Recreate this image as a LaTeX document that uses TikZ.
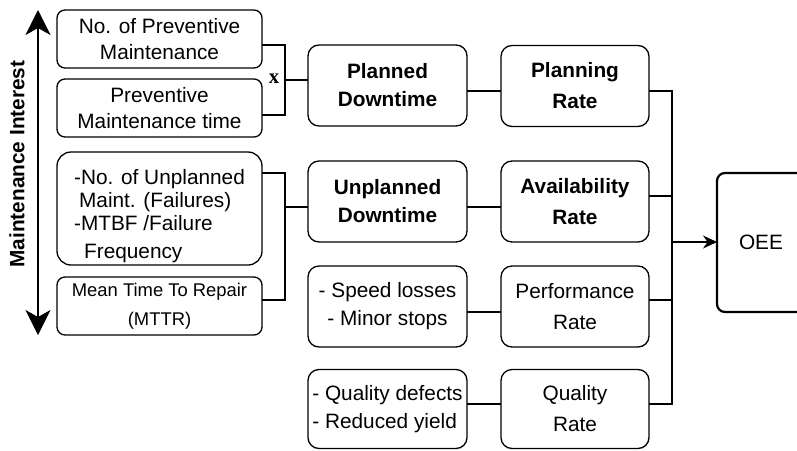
\documentclass[tikz,border=0pt]{standalone}
\usepackage{fontspec}
\setmainfont{Liberation Sans}
\newfontfamily\serifFont{Liberation Serif}
\usetikzlibrary{calc, arrows.meta}

\tikzset{
	inbox/.style={draw=black, line width=1.3pt, rounded corners=8pt, inner sep=0pt, outer sep=0pt,
		minimum width=205pt, minimum height=58pt, align=center, font=\fontsize{20.8}{26}\selectfont},
	lossbox/.style={draw=black, line width=1.3pt, rounded corners=11pt, inner sep=0pt, outer sep=0pt,
		minimum width=159pt, minimum height=81pt, align=center, font=\fontsize{20.8}{28}\selectfont},
	ratebox/.style={draw=black, line width=1.3pt, rounded corners=11pt, inner sep=0pt, outer sep=0pt,
		minimum width=148pt, minimum height=81pt, align=center, font=\fontsize{20.8}{31}\selectfont},
	link/.style={draw=black, line width=1.1pt}
}

\begin{document}
\begin{tikzpicture}[x=1pt, y=-1pt]

	\clip (0,0) rectangle (797,450);

	\def\leftCol{159.5}
	\def\midCol{387.5}
	\def\rightCol{575}

	% Maintenance inputs
	\node[inbox] (no_pm) at (\leftCol,39) {No. of Preventive\\ Maintenance};
	\node[inbox] (pm_time) at (\leftCol,108) {Preventive\\ Maintenance time};
	\node[inbox, rounded corners=14pt, minimum height=113pt, align=left,
		font=\fontsize{20.8}{23}\selectfont] (failures) at (\leftCol,208.5)
		{\rule{0pt}{31pt}-No. of Unplanned\\ \hspace*{5pt}Maint. (Failures)\\ -MTBF /Failure\\[5pt] \hspace*{10pt}Frequency};
	\node[inbox, font=\fontsize{18.4}{29}\selectfont] (mttr) at (\leftCol,306) {Mean Time To Repair\\ (MTTR)};

	% Losses
	\node[lossbox, font=\bfseries\fontsize{20.8}{28}\selectfont] (planned_downtime) at (\midCol,85.5) {Planned\\ Downtime};
	\node[lossbox, font=\bfseries\fontsize{20.8}{28}\selectfont] (unplanned_downtime) at (\midCol,201.5) {Unplanned\\ Downtime};
	\node[lossbox] (speed_losses) at (\midCol,306.5) {- Speed losses\\ - Minor stops};
	\node[lossbox, minimum height=79pt, align=left] (quality_defects) at (\midCol,409) {- Quality defects\\ - Reduced yield};

	% Rates
	\node[ratebox, font=\bfseries\fontsize{20.8}{31}\selectfont] (planning_rate) at (\rightCol,86) {Planning\\ Rate};
	\node[ratebox, font=\bfseries\fontsize{20.8}{31}\selectfont] (availability_rate) at (\rightCol,201.5) {Availability\\ Rate};
	\node[ratebox] (performance_rate) at (\rightCol,306.5) {Performance\\ Rate};
	\node[ratebox, minimum height=79pt] (quality_rate) at (\rightCol,409) {Quality\\ Rate};

	\node[draw=black, line width=2.2pt, rounded corners=8pt, inner sep=0pt, outer sep=0pt,
		minimum width=88pt, minimum height=139pt, font=\fontsize{20.8}{26}\selectfont] (oee) at (761,242.5) {OEE};

	\coordinate (pm_join) at (285,80);
	\coordinate (failure_join) at (285,207);
	\coordinate (bus_top) at (672,91);
	\coordinate (bus_bottom) at (672,404);
	\coordinate (bus_out) at (672,242);
	\coordinate (avail_level) at (0,196);
	\coordinate (speed_level) at (0,312);
	\coordinate (perf_level) at (0,300);

	% Planned branch
	\draw[link] ([yshift=-6pt]no_pm.east) -| (pm_join) |- ([yshift=-7pt]pm_time.east);
	\node[font=\serifFont\bfseries\fontsize{20.8}{26}\selectfont] (times_sign) at (274,79) {x};
	\draw[link] (pm_join) -- (pm_join -| planned_downtime.west);
	\draw[link] (planned_downtime.east |- bus_top) -- (planning_rate.west |- bus_top);

	% Unplanned branch
	\draw[link] ([yshift=35.5pt]failures.east) -| (failure_join) |- ([yshift=6pt]mttr.east);
	\draw[link] (failure_join) -- (failure_join -| unplanned_downtime.west);
	\draw[link] (unplanned_downtime.east |- failure_join) -- (availability_rate.west |- failure_join);

	% Speed and quality
	\draw[link] (speed_losses.east |- speed_level) -- (performance_rate.west |- speed_level);
	\draw[link] (quality_defects.east |- bus_bottom) -- (quality_rate.west |- bus_bottom);

	% Rates into OEE
	\draw[link] (planning_rate.east |- bus_top) -- (bus_top) -- (bus_bottom) -- (quality_rate.east |- bus_bottom);
	\draw[link] (availability_rate.east |- avail_level) -- (bus_top |- avail_level);
	\draw[link] (performance_rate.east |- perf_level) -- (bus_top |- perf_level);
	\draw[link, -{Stealth[length=14pt, width=13pt]}] (bus_out) -- (bus_out -| oee.west);

	% Maintenance interest
	\coordinate (interest_top) at (38,10);
	\coordinate (interest_bottom) at (38,335);
	\draw[line width=1.2pt, {Stealth[length=25pt, width=25pt, inset=7pt]}-{Stealth[length=25pt, width=25pt, inset=7pt]}]
		(interest_top) -- (interest_bottom);
	\node[rotate=90, font=\bfseries\fontsize{20.8}{26}\selectfont] (interest_label) at (17,164) {Maintenance Interest};

\end{tikzpicture}
\end{document}
